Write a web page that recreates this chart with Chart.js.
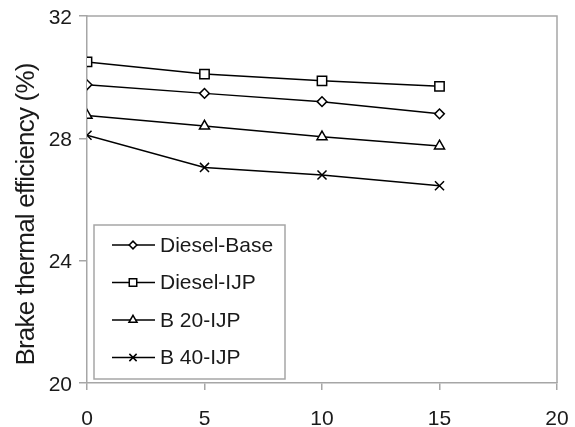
<!DOCTYPE html>
<html>
<head>
<meta charset="utf-8">
<script src="https://cdn.jsdelivr.net/npm/chart.js@4.4.0/dist/chart.umd.min.js"></script>
<style>
  html, body { margin: 0; padding: 0; background: #fff; }
  #wrap { width: 575px; height: 427px; }
</style>
</head>
<body>
<div id="wrap"><canvas id="chart" width="575" height="427"></canvas></div>
<script>
// ── Data ──────────────────────────────────────────
const loads      = [0, 5, 10, 15];
const dieselBase = [29.75, 29.47, 29.2, 28.8];
const dieselIJP  = [30.5, 30.1, 29.88, 29.7];
const b20IJP     = [28.75, 28.4, 28.05, 27.75];
const b40IJP     = [28.1, 27.05, 26.8, 26.45];
const seriesNames = ['Diesel-Base', 'Diesel-IJP', 'B 20-IJP', 'B 40-IJP'];
const xTicks = [0, 5, 10, 15, 20];
const yTicks = [20, 24, 28, 32];
const yTitle = 'Brake thermal efficiency (%)';

const FONT = "'Liberation Sans', Arial, sans-serif";
const AXIS = '#a6a6a6';
const TEXT = '#1a1a1a';

const pts = arr => arr.map((v, i) => ({x: loads[i], y: v}));

const mkSet = (label, data, style, radius) => ({
  label, data: pts(data),
  borderColor: '#000', borderWidth: 1.5,
  pointStyle: style, pointRadius: radius, pointHoverRadius: radius,
  pointBackgroundColor: '#fff', pointBorderColor: '#000', pointBorderWidth: 1.5,
  tension: 0, fill: false
});

// gray frame round the plot area (top + right sides) and the y title
const framePlugin = {
  id: 'frame',
  beforeDatasetsDraw(chart) {
    const {ctx, chartArea: a} = chart;
    ctx.save();
    ctx.strokeStyle = AXIS; ctx.lineWidth = 1.5;
    ctx.beginPath();
    ctx.moveTo(a.left, a.top); ctx.lineTo(a.right, a.top); ctx.lineTo(a.right, a.bottom);
    ctx.stroke();
    // rotated y-axis title, sits a little below the plot centre like the original
    ctx.translate(27, (a.top + a.bottom) / 2 + 15);
    ctx.rotate(-Math.PI / 2);
    ctx.font = '26px ' + FONT;
    if ('letterSpacing' in ctx) ctx.letterSpacing = '-0.8px';
    ctx.fillStyle = TEXT;
    ctx.textAlign = 'center'; ctx.textBaseline = 'middle';
    ctx.fillText(yTitle, 0, 0);
    ctx.restore();
  }
};

// boxed legend inside the plot, bottom left
const boxLegend = {
  id: 'boxLegend',
  afterDraw(chart) {
    const {ctx, chartArea: a} = chart;
    const x0 = a.left + 7, y0 = a.bottom - 158, w = 191, h = 154;
    ctx.save();
    ctx.fillStyle = '#fff';
    ctx.fillRect(x0, y0, w, h);
    ctx.strokeStyle = AXIS; ctx.lineWidth = 1.5;
    ctx.strokeRect(x0, y0, w, h);
    ctx.font = '21px ' + FONT;
    ctx.textBaseline = 'middle';
    chart.data.datasets.forEach((ds, i) => {
      const cy = y0 + 20 + i * 37.5;
      ctx.strokeStyle = '#000'; ctx.lineWidth = 1.5;
      ctx.beginPath(); ctx.moveTo(x0 + 18, cy); ctx.lineTo(x0 + 61, cy); ctx.stroke();
      ctx.fillStyle = '#fff';
      Chart.helpers.drawPoint(ctx, {pointStyle: ds.pointStyle, radius: ds.pointRadius * 0.8, borderWidth: 1.5}, x0 + 39, cy);
      ctx.fillStyle = TEXT;
      ctx.fillText(ds.label, x0 + 66, cy + 1);
    });
    ctx.restore();
  }
};

new Chart(document.getElementById('chart'), {
  type: 'line',
  data: {
    datasets: [
      mkSet(seriesNames[0], dieselBase, 'rectRot', 4.8),
      mkSet(seriesNames[1], dieselIJP, 'rect', 6.6),
      mkSet(seriesNames[2], b20IJP, 'triangle', 5.8),
      mkSet(seriesNames[3], b40IJP, 'crossRot', 6.4)
    ]
  },
  options: {
    responsive: false,
    animation: false,
    devicePixelRatio: 1,
    layout: { padding: { left: 0, right: 18, top: 16, bottom: 0 } },
    plugins: { legend: { display: false }, tooltip: { enabled: false } },
    scales: {
      x: {
        type: 'linear', min: 0, max: 20,
        afterBuildTicks: s => { s.ticks = xTicks.map(v => ({value: v})); },
        afterFit: s => { s.height = 44; s.paddingLeft = 0; s.paddingRight = 0; },
        border: { color: AXIS, width: 1.5 },
        grid: { drawOnChartArea: false, drawTicks: true, tickLength: 7, color: AXIS, lineWidth: 1.5 },
        ticks: { color: TEXT, font: { family: FONT, size: 21 }, padding: 17, maxRotation: 0 }
      },
      y: {
        min: 20, max: 32,
        afterBuildTicks: s => { s.ticks = yTicks.map(v => ({value: v})); },
        afterFit: s => { s.width = 87; s.paddingTop = 0; s.paddingBottom = 0; },
        border: { color: AXIS, width: 1.5 },
        grid: { drawOnChartArea: false, drawTicks: true, tickLength: 8, color: AXIS, lineWidth: 1.5 },
        ticks: { color: TEXT, font: { family: FONT, size: 21 }, padding: 7, labelOffset: 2 }
      }
    }
  },
  plugins: [framePlugin, boxLegend]
});
</script>
</body>
</html>
